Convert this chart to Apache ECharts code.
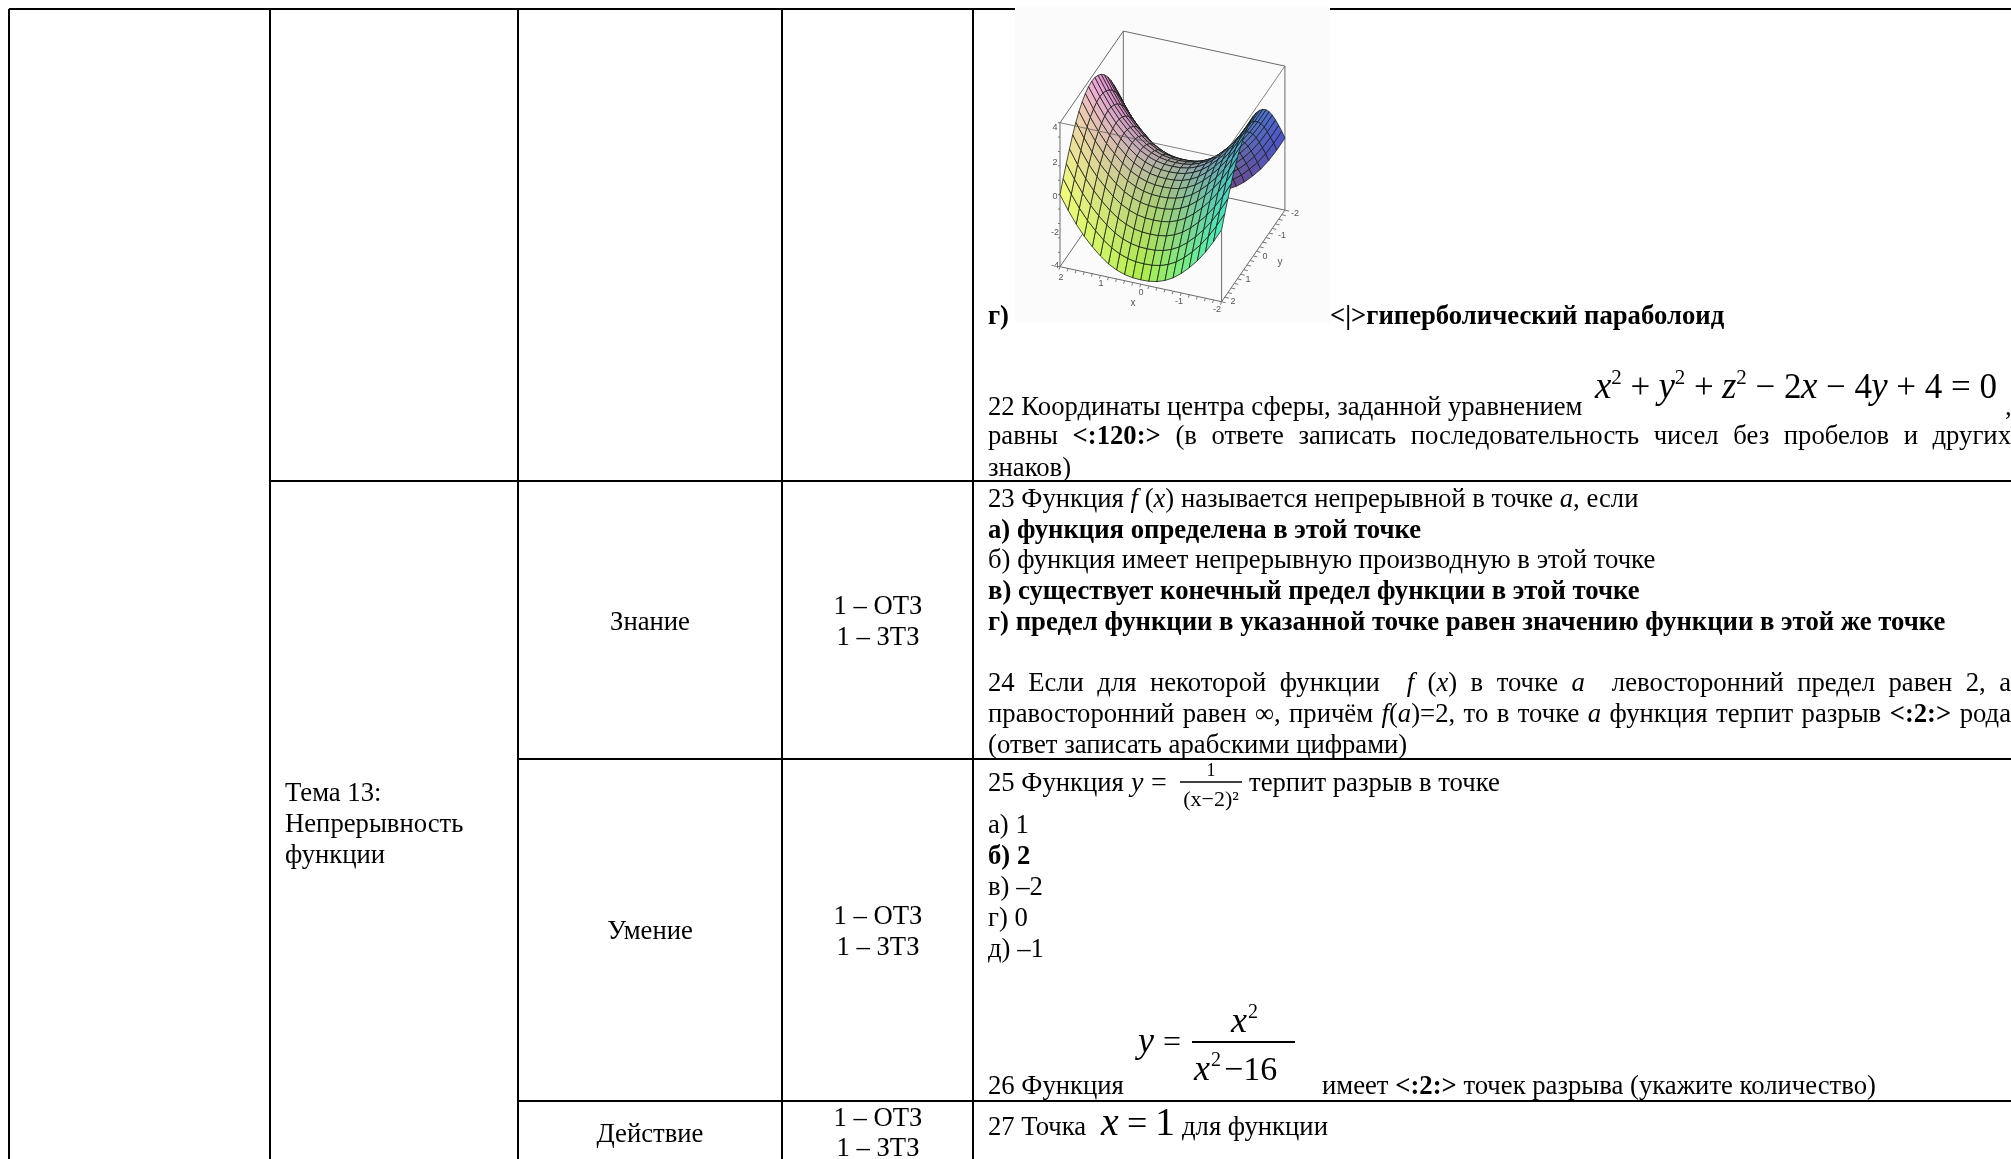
<!DOCTYPE html>
<html>
<head>
<meta charset="utf-8">
<style>html,body{margin:0;background:#fff}#chart{width:2011px;height:1159px}</style>
<script src="https://cdn.jsdelivr.net/npm/echarts@6/dist/echarts.min.js"></script>
</head>
<body>
<div id="chart"></div>
<script>
// table text
const topicLabels = ["Тема 13:", "Непрерывность", "функции"];
const levelLabels = ["Знание", "Умение", "Действие"];
const taskCounts = ["1 – ОТЗ", "1 – ЗТЗ"];

// table rules on the page axes: x1, y1, x2, y2
const tableRules = [
  [9, 9, 9, 1159], [270, 9, 270, 1159], [518, 9, 518, 1159], [782, 9, 782, 1159], [973, 9, 973, 1159],
  [9, 9, 2011, 9], [270, 481, 2011, 481], [518, 759, 2011, 759], [518, 1101, 2011, 1101],
];

// saddle surface at steps of 0.2
const surfaceX = [2, 1.8, 1.6, 1.4, 1.2, 1, 0.8, 0.6, 0.4, 0.2, 0, -0.2, -0.4, -0.6, -0.8, -1, -1.2, -1.4, -1.6, -1.8, -2];
const surfaceY = [2, 1.8, 1.6, 1.4, 1.2, 1, 0.8, 0.6, 0.4, 0.2, 0, -0.2, -0.4, -0.6, -0.8, -1, -1.2, -1.4, -1.6, -1.8, -2];
const riseAlongX = [4, 3.24, 2.56, 1.98, 1.5, 1.08, 0.74, 0.5, 0.34, 0.26, 0.24, 0.26, 0.34, 0.5, 0.74, 1.08, 1.5, 1.98, 2.56, 3.24, 4];
const dropAlongY = [4, 3.36, 2.78, 2.22, 1.7, 1.26, 0.9, 0.62, 0.42, 0.29, 0.24, 0.29, 0.42, 0.62, 0.9, 1.26, 1.7, 2.22, 2.78, 3.36, 4];
// colours at x = 2, 0, -2 (columns) and y = 2, 0, -2 (rows)
const surfaceColors = [
  [[240, 255, 120], [175, 240, 70], [70, 240, 190]],
  [[240, 170, 215], [165, 175, 160], [70, 130, 210]],
  [[205, 95, 200], [125, 65, 100], [75, 85, 205]],
];
const xTickLabels = ["2", "1", "0", "-1", "-2"];
const yTickLabels = ["2", "1", "0", "-1", "-2"];
const zTickLabels = ["4", "2", "0", "-2", "-4"];

const SERIF = '"Liberation Serif"';
const BODY = 26.7;
const measure = document.createElement("canvas").getContext("2d");

function fontOf(style, size) {
  const bold = style.includes("b") ? "bold " : "";
  const italic = style.includes("i") ? "italic " : "";
  return italic + bold + size + "px " + SERIF;
}

// one text piece, y is the baseline
function piece(api, x, y, text, style, size, align) {
  const p = api.coord([x, y]);
  return {
    type: "text",
    style: {
      x: p[0], y: p[1] - size * 0.3 + 1, text: text, font: fontOf(style, size), fill: "#000",
      align: align || "left", verticalAlign: "middle",
    },
  };
}

// a line of [text, style] runs, spaces stretched when endX is given
function runLine(api, x, y, runs, endX) {
  let width = 0, gaps = 0;
  runs.forEach(([t, s]) => {
    measure.font = fontOf(s, BODY);
    width += measure.measureText(t).width;
    gaps += (t.match(/ /g) || []).length;
  });
  const extra = endX && gaps ? (endX - x - width) / gaps : 0;
  const out = [];
  let cx = x;
  runs.forEach(([t, s]) => {
    measure.font = fontOf(s, BODY);
    t.split(/( )/).forEach((w) => {
      if (w === "") return;
      if (w === " ") { cx += measure.measureText(" ").width + extra; return; }
      out.push(piece(api, cx, y, w, s, BODY));
      cx += measure.measureText(w).width;
    });
  });
  return out;
}

function bar(api, x1, y, x2, width) {
  const a = api.coord([x1, y]), b = api.coord([x2, y]);
  return { type: "line", shape: { x1: a[0], y1: a[1], x2: b[0], y2: b[1] }, style: { stroke: "#000", lineWidth: width } };
}

function renderTable(params, api) {
  return {
    type: "line",
    shape: {
      x1: api.coord([api.value(0), 0])[0], y1: api.coord([0, api.value(1)])[1],
      x2: api.coord([api.value(2), 0])[0], y2: api.coord([0, api.value(3)])[1],
    },
    style: { stroke: "#000", lineWidth: 2 },
  };
}

function renderTexts(params, api) {
  const L = 988, R = 2011;
  const kids = [];
  const add = (items) => kids.push(...items);

  topicLabels.forEach((t, i) => kids.push(piece(api, 285, [801, 832, 863][i], t, "", BODY)));
  levelLabels.forEach((t, i) => kids.push(piece(api, 650, [630, 939, 1142][i], t, "", BODY, "center")));
  [[614, 645], [924, 955], [1126, 1156]].forEach((ys) => {
    taskCounts.forEach((t, i) => kids.push(piece(api, 878, ys[i], t, "", BODY, "center")));
  });

  add(runLine(api, L, 324, [["г)", "b"]]));
  add(runLine(api, 1330, 324, [["<|>гиперболический параболоид", "b"]]));

  add(runLine(api, L, 415, [["22 Координаты центра сферы, заданной уравнением", ""]]));
  let fx = 1595;
  [["x", "i", 37], ["2", "", 21, -14], [" + ", "", 35], ["y", "i", 37], ["2", "", 21, -14], [" + ", "", 35], ["z", "i", 37], ["2", "", 21, -14],
   [" − 2", "", 35], ["x", "i", 37], [" − 4", "", 35], ["y", "i", 37], [" + 4 = 0", "", 35]].forEach(([t, s, size, dy]) => {
    kids.push(piece(api, fx, 398 + (dy || 0), t, s, size));
    measure.font = fontOf(s, size);
    fx += measure.measureText(t).width * 0.99;
  });
  kids.push(piece(api, 2005, 415, ",", "", BODY));
  add(runLine(api, L, 444, [["равны ", ""], ["<:120:>", "b"], [" (в ответе записать последовательность чисел без пробелов и других", ""]], R));
  add(runLine(api, L, 476, [["знаков)", ""]]));

  add(runLine(api, L, 507, [["23 Функция ", ""], ["f", "i"], [" (", ""], ["x", "i"], [") называется непрерывной в точке ", ""], ["a", "i"], [", если", ""]]));
  add(runLine(api, L, 538, [["а) функция определена в этой точке", "b"]]));
  add(runLine(api, L, 568, [["б) функция имеет непрерывную производную в этой точке", ""]]));
  add(runLine(api, L, 599, [["в) существует конечный предел функции в этой точке", "b"]]));
  add(runLine(api, L, 630, [["г) предел функции в указанной точке равен значению функции в этой же точке", "b"]]));

  add(runLine(api, L, 691, [["24 Если для некоторой функции  ", ""], ["f", "i"], [" (", ""], ["x", "i"], [") в точке ", ""], ["a", "i"], ["  левосторонний предел равен 2, а", ""]], R));
  add(runLine(api, L, 722, [["правосторонний равен ∞, причём ", ""], ["f", "i"], ["(", ""], ["a", "i"], [")=2, то в точке ", ""], ["a", "i"], [" функция терпит разрыв ", ""], ["<:2:>", "b"], [" рода", ""]], R));
  add(runLine(api, L, 753, [["(ответ записать арабскими цифрами)", ""]]));

  add(runLine(api, L, 791, [["25 Функция ", ""]]));
  kids.push(piece(api, 1131, 791, "y", "i", 28));
  kids.push(piece(api, 1151, 791, "=", "", 28));
  kids.push(piece(api, 1211, 776, "1", "", 18, "center"));
  kids.push(piece(api, 1211, 806, "(x−2)²", "", 22, "center"));
  kids.push(bar(api, 1180, 782, 1242, 1.5));
  add(runLine(api, 1249, 791, [["терпит разрыв в точке", ""]]));
  add(runLine(api, L, 833, [["а) 1", ""]]));
  add(runLine(api, L, 864, [["б) 2", "b"]]));
  add(runLine(api, L, 895, [["в) –2", ""]]));
  add(runLine(api, L, 926, [["г) 0", ""]]));
  add(runLine(api, L, 957, [["д) –1", ""]]));

  add(runLine(api, L, 1094, [["26 Функция", ""]]));
  kids.push(piece(api, 1138, 1052, "y", "i", 36));
  kids.push(piece(api, 1163, 1052, "=", "", 32));
  kids.push(piece(api, 1231, 1032, "x", "i", 36));
  kids.push(piece(api, 1248, 1018, "2", "", 20));
  kids.push(bar(api, 1192, 1042, 1295, 2));
  kids.push(piece(api, 1194, 1080, "x", "i", 36));
  kids.push(piece(api, 1211, 1066, "2", "", 20));
  kids.push(piece(api, 1224, 1080, "−16", "", 34));
  add(runLine(api, 1322, 1094, [["имеет ", ""], ["<:2:>", "b"], [" точек разрыва (укажите количество)", ""]]));

  add(runLine(api, L, 1135, [["27 Точка", ""]]));
  kids.push(piece(api, 1101, 1135, "x", "i", 40));
  kids.push(piece(api, 1127, 1135, "=", "", 36));
  kids.push(piece(api, 1155, 1135, "1", "", 40));
  add(runLine(api, 1182, 1135, [["для функции", ""]]));

  return { type: "group", children: kids };
}

// orthographic view of the box, taken from its drawn corners
function project(x, y, z) {
  return [
    1060 + (2 - x) * 40.4 + (2 - y) * 15.83,
    266.7 + (2 - x) * 8.75 - (2 - y) * 22.9 - (z + 4) * 18,
  ];
}
function nearness(x, y, z) {
  return -37.5 * x + 98.2 * y + 37.8 * z;
}
function heightAt(i, j) {
  return riseAlongX[i] - dropAlongY[j];
}
function colorAt(x, y) {
  const u = (2 - x) / 2, v = (2 - y) / 2;
  const c = Math.min(Math.floor(u), 1), r = Math.min(Math.floor(v), 1);
  const fu = u - c, fv = v - r;
  const out = [0, 1, 2].map((k) =>
    Math.round(
      (surfaceColors[r][c][k] * (1 - fu) + surfaceColors[r][c + 1][k] * fu) * (1 - fv) +
      (surfaceColors[r + 1][c][k] * (1 - fu) + surfaceColors[r + 1][c + 1][k] * fu) * fv
    )
  );
  return "rgb(" + out.join(",") + ")";
}

const cells = [];
for (let i = 0; i < surfaceX.length - 1; i++) {
  for (let j = 0; j < surfaceY.length - 1; j++) {
    const mid = nearness(
      (surfaceX[i] + surfaceX[i + 1]) / 2, (surfaceY[j] + surfaceY[j + 1]) / 2,
      (heightAt(i, j) + heightAt(i + 1, j) + heightAt(i, j + 1) + heightAt(i + 1, j + 1)) / 4
    );
    cells.push([i, j, mid]);
  }
}
cells.sort((a, b) => a[2] - b[2]);

function renderCell(params, api) {
  const i = api.value(0), j = api.value(1);
  const corners = [[i, j], [i + 1, j], [i + 1, j + 1], [i, j + 1]].map(([a, b]) =>
    api.coord(project(surfaceX[a], surfaceY[b], heightAt(a, b)))
  );
  return {
    type: "polygon",
    shape: { points: corners },
    style: {
      fill: colorAt((surfaceX[i] + surfaceX[i + 1]) / 2, (surfaceY[j] + surfaceY[j + 1]) / 2),
      stroke: "rgba(20,25,20,0.85)", lineWidth: 0.9,
    },
  };
}

function boxLine(api, a, b, color) {
  const p = api.coord(project(a[0], a[1], a[2])), q = api.coord(project(b[0], b[1], b[2]));
  return { type: "line", shape: { x1: p[0], y1: p[1], x2: q[0], y2: q[1] }, style: { stroke: color || "#6b6b6b", lineWidth: 1 } };
}

function renderBoxBack(params, api) {
  const c0 = api.coord([1015, 7]), c1 = api.coord([1330, 323]);
  const lines = [
    [[2, 2, -4], [2, -2, -4]], [[2, -2, -4], [-2, -2, -4]], [[2, -2, -4], [2, -2, 4]],
    [[-2, -2, -4], [-2, -2, 4]], [[2, 2, 4], [2, -2, 4]], [[2, -2, 4], [-2, -2, 4]],
    [[2, 2, -4], [2, 2, 4]], [[2, 2, -4], [-2, 2, -4]], [[-2, 2, -4], [-2, -2, -4]],
  ];
  const kids = [{ type: "rect", shape: { x: c0[0], y: c0[1], width: c1[0] - c0[0], height: c1[1] - c0[1] }, style: { fill: "#fbfbfb" } }];
  lines.forEach(([a, b]) => kids.push(boxLine(api, a, b)));
  // small ticks along the three drawn axes
  surfaceX.forEach((t) => {
    const p = api.coord(project(t, 2, -4));
    kids.push({ type: "line", shape: { x1: p[0], y1: p[1], x2: p[0] - 1, y2: p[1] + 3 }, style: { stroke: "#777", lineWidth: 1 } });
    const q = api.coord(project(-2, t, -4));
    kids.push({ type: "line", shape: { x1: q[0], y1: q[1], x2: q[0] + 4, y2: q[1] + 1 }, style: { stroke: "#777", lineWidth: 1 } });
  });
  [4, 3.2, 2.4, 1.6, 0.8, 0, -0.8, -1.6, -2.4, -3.2, -4].forEach((t) => {
    const p = api.coord(project(2, 2, t));
    kids.push({ type: "line", shape: { x1: p[0] - 2, y1: p[1], x2: p[0], y2: p[1] }, style: { stroke: "#777", lineWidth: 1 } });
  });
  return { type: "group", children: kids };
}

function renderBoxFront(params, api) {
  const kids = [
    boxLine(api, [2, 2, 4], [-2, 2, 4], "rgba(90,90,90,0.75)"),
    boxLine(api, [-2, 2, 4], [-2, -2, 4], "rgba(90,90,90,0.75)"),
    boxLine(api, [-2, 2, -4], [-2, 2, 0]),
  ];
  const small = (x, y, t, size) => {
    const p = api.coord([x, y]);
    return { type: "text", style: { x: p[0], y: p[1], text: t, font: (size || 9) + 'px "Liberation Sans"', fill: "#555", align: "center", verticalAlign: "middle" } };
  };
  [[1061, 278], [1101, 284], [1141, 293], [1179, 302], [1217, 310]].forEach(([x, y], i) => kids.push(small(x, y, xTickLabels[i])));
  [[1233, 302], [1248, 280], [1265, 257], [1282, 236], [1295, 214]].forEach(([x, y], i) => kids.push(small(x, y, yTickLabels[i])));
  [[1055, 128], [1055, 163], [1055, 197], [1055, 233], [1055, 266]].forEach(([x, y], i) => kids.push(small(x, y, zTickLabels[i])));
  kids.push(small(1133, 303, "x", 10), small(1280, 262, "y", 10));
  return { type: "group", children: kids };
}

const chart = echarts.init(document.getElementById("chart"));
chart.setOption({
  animation: false,
  backgroundColor: "#fff",
  grid: { left: 0, right: 0, top: 0, bottom: 0 },
  xAxis: { type: "value", min: 0, max: 2011, show: false },
  yAxis: { type: "value", min: 0, max: 1159, inverse: true, show: false },
  tooltip: { show: false },
  series: [
    { type: "custom", renderItem: renderTable, data: tableRules, clip: false, silent: true, z: 1 },
    { type: "custom", renderItem: renderBoxBack, data: [[0, 0]], clip: false, silent: true, z: 2 },
    { type: "custom", renderItem: renderCell, data: cells, clip: false, silent: true, z: 3 },
    { type: "custom", renderItem: renderBoxFront, data: [[0, 0]], clip: false, silent: true, z: 4 },
    { type: "custom", renderItem: renderTexts, data: [[0, 0]], clip: false, silent: true, z: 5 },
  ],
});
</script>
</body>
</html>
